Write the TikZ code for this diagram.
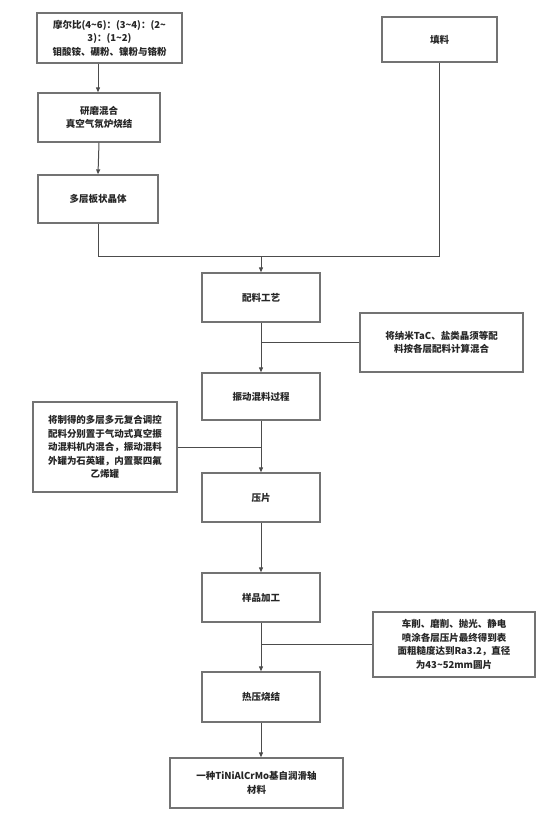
\documentclass[tikz,border=0pt]{standalone}
\usepackage{fontspec}
\setmainfont{Noto Sans CJK SC}
\usetikzlibrary{arrows.meta}
\begin{document}
\begin{tikzpicture}[x=1pt,y=-1pt,
  box/.style={draw=black!55, line width=1.3pt, fill=white, align=center, inner sep=2pt,
    font=\fontsize{9.5}{13.5}\selectfont\bfseries, text=black!85},
  line/.style={draw=black!70, line width=1pt},
  arr/.style={line, -{Triangle[length=5pt,width=4pt]}}]
\useasboundingbox (0,0) rectangle (544,828);
\node[box, minimum width=145pt, minimum height=50pt] (b1) at (109.5,38)
  {摩尔比(4\textasciitilde6)：(3\textasciitilde4)：(2\textasciitilde\\3)：(1\textasciitilde2)\\钼酸铵、硼粉、镍粉与铬粉};
\node[box, minimum width=115pt, minimum height=45pt] (b2) at (439.5,39.5) {填料};
\node[box, minimum width=122pt, minimum height=49pt] (b3) at (99,117.5) {研磨混合\\真空气氛炉烧结};
\node[box, minimum width=120pt, minimum height=48pt] (b4) at (98,199) {多层板状晶体};
\node[box, minimum width=118pt, minimum height=49pt] (b5) at (261,297.5) {配料工艺};
\node[box, minimum width=163pt, minimum height=59pt] (b6) at (441.5,342.5) {将纳米TaC、盐类晶须等配\\料按各层配料计算混合};
\node[box, minimum width=118pt, minimum height=47pt] (b7) at (261,396.5) {振动混料过程};
\node[box, minimum width=144pt, minimum height=90pt] (b8) at (105,447) {将制得的多层多元复合调控\\配料分别置于气动式真空振\\动混料机内混合，振动混料\\外罐为石英罐，内置聚四氟\\乙烯罐};
\node[box, minimum width=118pt, minimum height=49pt] (b9) at (261,497.5) {压片};
\node[box, minimum width=118pt, minimum height=49pt] (b10) at (261,597.5) {样品加工};
\node[box, minimum width=162pt, minimum height=65pt] (b11) at (454,644.5) {车削、磨削、抛光、静电\\喷涂各层压片最终得到表\\面粗糙度达到Ra3.2，直径\\为43\textasciitilde52mm圆片};
\node[box, minimum width=118pt, minimum height=50pt] (b12) at (261,697) {热压烧结};
\node[box, minimum width=173pt, minimum height=50pt] (b13) at (256.5,783) {一种TiNiAlCrMo基自润滑轴\\材料};
\coordinate (j) at (261,256);
\draw[arr] (b1.south -| 98,0) -- (b3.north -| 98,0);
\draw[arr] (b3.south) -- (b4.north);
\draw[line] (b4.south) |- (j);
\draw[line] (b2.south) |- (j);
\draw[arr] (j) -- (b5.north);
\draw[arr] (b5.south) -- (b7.north);
\draw[line] (b6.west) -- (b6.west -| b5.south);
\draw[arr] (b7.south) -- (b9.north);
\draw[line] (b8.east) -- (b8.east -| b7.south);
\draw[arr] (b9.south) -- (b10.north);
\draw[arr] (b10.south) -- (b12.north);
\draw[line] (b11.west) -- (b11.west -| b10.south);
\draw[arr] (b12.south) -- (b13.north -| b12.south);
\end{tikzpicture}
\end{document}
